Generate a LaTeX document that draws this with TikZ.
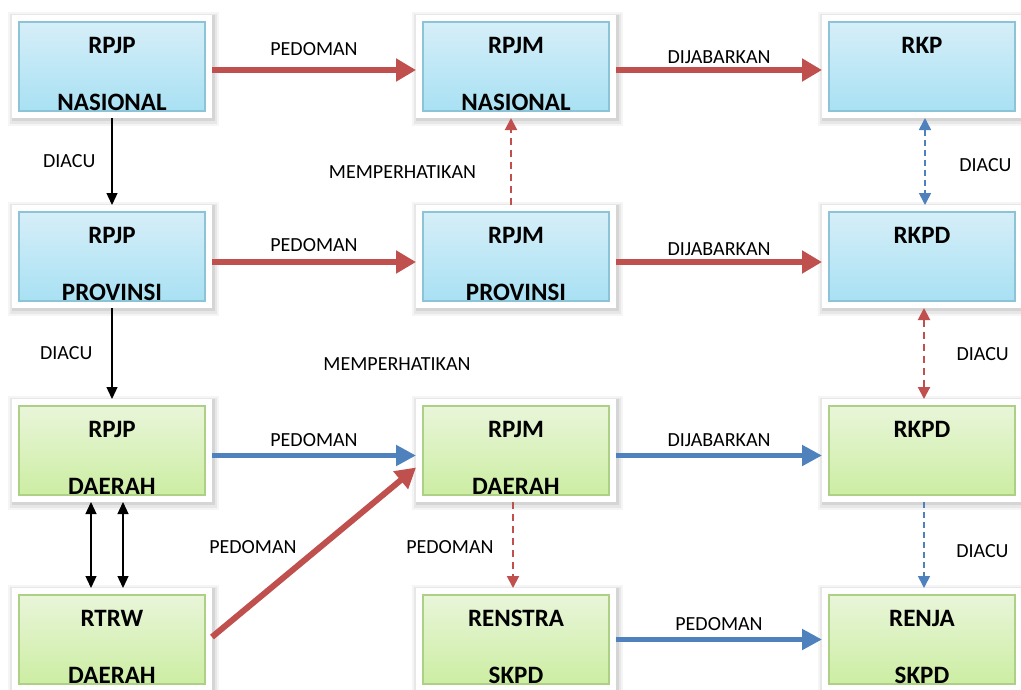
\documentclass[tikz,border=0pt]{standalone}
\usepackage{fontspec}
\setmainfont{Carlito}
\usetikzlibrary{positioning,arrows.meta}

\definecolor{arrowred}{HTML}{C0504D}
\definecolor{arrowblue}{HTML}{4F81BD}
\definecolor{bluetop}{HTML}{D8EFF8}
\definecolor{bluebottom}{HTML}{A6E0F3}
\definecolor{blueedge}{HTML}{8CC3D6}
\definecolor{greentop}{HTML}{EAF6DC}
\definecolor{greenbottom}{HTML}{CBEDA0}
\definecolor{greenedge}{HTML}{ADD086}

\begin{document}
\begin{tikzpicture}[x=1pt, y=-1pt,
        planbox/.style={rectangle, draw=white, line width=6pt, minimum width=194pt, minimum height=97pt,
            align=center, font=\fontsize{25}{30}\selectfont\bfseries, text height=87pt, text depth=0pt,
            preaction={draw=black, draw opacity=0.04, line width=17pt, transform canvas={shift={(1.5pt,-2.5pt)}}},
            preaction={draw=black, draw opacity=0.06, line width=13pt, transform canvas={shift={(1.5pt,-2pt)}}},
            preaction={draw=black, draw opacity=0.08, line width=9pt, transform canvas={shift={(1pt,-1.5pt)}}},
            path picture={\draw[#1, line width=1.2pt] ([shift={(4pt,4pt)}]path picture bounding box.south west) rectangle ([shift={(-4pt,-4pt)}]path picture bounding box.north east);}},
        bluebox/.style={planbox=blueedge, top color=bluetop, bottom color=bluebottom},
        greenbox/.style={planbox=greenedge, top color=greentop, bottom color=greenbottom},
        lbl/.style={font=\fontsize{20}{24}\selectfont, inner sep=0pt},
        pedomanred/.style={draw=arrowred, line width=6pt, -{Triangle[length=20pt,width=22pt]}},
        pedomanblue/.style={draw=arrowblue, line width=5pt, -{Triangle[length=20pt,width=20pt]}},
        diacu/.style={draw=black, line width=1.3pt, >={Triangle[length=12pt,width=11pt]}, ->},
        dashred/.style={draw=arrowred, line width=2pt, dash pattern=on 7pt off 5pt, >={Triangle[length=12pt,width=12pt]}, ->},
        dashblue/.style={draw=arrowblue, line width=1.6pt, dash pattern=on 6pt off 4pt, >={Triangle[length=12pt,width=12pt]}, ->},
        ]
        \useasboundingbox (0,0) rectangle (1021,689);

        %Nodes
        \node[bluebox] (rpjpnas) at (112,66.5) {RPJP\\[27pt]NASIONAL};
        \node[bluebox] (rpjmnas) [right=204pt of rpjpnas] {RPJM\\[27pt]NASIONAL};
        \node[bluebox] (rkp) [right=206pt of rpjmnas] {RKP\\[27pt]\phantom{RKP}};

        \node[bluebox] (rpjpprov) [below=87pt of rpjpnas] {RPJP\\[27pt]PROVINSI};
        \node[bluebox] (rpjmprov) [below=87pt of rpjmnas] {RPJM\\[27pt]PROVINSI};
        \node[bluebox] (rkpdprov) [below=87pt of rkp] {RKPD\\[27pt]\phantom{RKPD}};

        \node[greenbox] (rpjpdae) [below=91pt of rpjpprov] {RPJP\\[27pt]DAERAH};
        \node[greenbox] (rpjmdae) [below=91pt of rpjmprov] {RPJM\\[27pt]DAERAH};
        \node[greenbox] (rkpddae) [below=91pt of rkpdprov] {RKPD\\[27pt]\phantom{RKPD}};

        \node[greenbox] (rtrw) [below=86pt of rpjpdae] {RTRW\\[27pt]DAERAH};
        \node[greenbox] (renstra) [below=86pt of rpjmdae] {RENSTRA\\[27pt]SKPD};
        \node[greenbox] (renja) [below=86pt of rkpddae] {RENJA\\[27pt]SKPD};

        \node[lbl] (memp2) at (397,364) {MEMPERHATIKAN};

        %Arrows
        \draw[pedomanred] ([yshift=-3.5pt]rpjpnas.east) -- node[lbl, above=11.5pt] (ped1) {PEDOMAN} ([yshift=-3.5pt]rpjmnas.west);
        \draw[pedomanred] ([yshift=-3.5pt]rpjmnas.east) -- node[lbl, above=3.5pt] (jab1) {DIJABARKAN} ([yshift=-3.5pt]rkp.west);
        \draw[pedomanred] ([yshift=-5.5pt]rpjpprov.east) -- node[lbl, above=7.5pt] (ped2) {PEDOMAN} ([yshift=-5.5pt]rpjmprov.west);
        \draw[pedomanred] ([yshift=-5.5pt]rpjmprov.east) -- node[lbl, above=3.5pt] (jab2) {DIJABARKAN} ([yshift=-5.5pt]rkpdprov.west);
        \draw[pedomanblue] ([yshift=-5pt]rpjpdae.east) -- node[lbl, above=6.5pt] (ped3) {PEDOMAN} ([yshift=-5pt]rpjmdae.west);
        \draw[pedomanblue] ([yshift=-5pt]rpjmdae.east) -- node[lbl, above=6.5pt] (jab3) {DIJABARKAN} ([yshift=-5pt]rkpddae.west);
        \draw[pedomanblue] (renstra.east) -- node[lbl, above=6.5pt] (ped4) {PEDOMAN} (renja.west);
        \draw[pedomanred] ([yshift=2.5pt]rtrw.east) -- node[lbl, left=14.5pt, yshift=5pt] (ped5) {PEDOMAN} ([yshift=-17pt]rpjmdae.west);

        \draw[diacu] (rpjpnas.south) -- node[lbl, left=16pt] (diacu1) {DIACU} (rpjpprov.north);
        \draw[diacu] (rpjpprov.south) -- node[lbl, left=19pt] (diacu2) {DIACU} (rpjpdae.north);
        \draw[diacu, <->] ([xshift=-21pt]rpjpdae.south) -- ([xshift=-21pt]rtrw.north);
        \draw[diacu, <->] ([xshift=11pt]rpjpdae.south) -- ([xshift=11pt]rtrw.north);

        \draw[dashred] ([xshift=-5pt]rpjmprov.north) -- node[lbl, left=34pt, yshift=-10.5pt] (memp1) {MEMPERHATIKAN} ([xshift=-5pt]rpjmnas.south);
        \draw[dashred] ([xshift=-3pt]rpjmdae.south) -- node[lbl, left=18.5pt, yshift=-2pt] (ped6) {PEDOMAN} ([xshift=-3pt]renstra.north);
        \draw[dashblue, <->] ([xshift=3pt]rkp.south) -- node[lbl, right=33.5pt, yshift=-3.5pt] (diacu3) {DIACU} ([xshift=3pt]rkpdprov.north);
        \draw[dashred, <->] ([xshift=2pt]rkpdprov.south) -- node[lbl, right=31.5pt, yshift=-1pt] (diacu4) {DIACU} ([xshift=2pt]rkpddae.north);
        \draw[dashblue] ([xshift=2pt]rkpddae.south) -- node[lbl, right=31.5pt, yshift=-6pt] (diacu5) {DIACU} ([xshift=2pt]renja.north);
    \end{tikzpicture}
\end{document}
